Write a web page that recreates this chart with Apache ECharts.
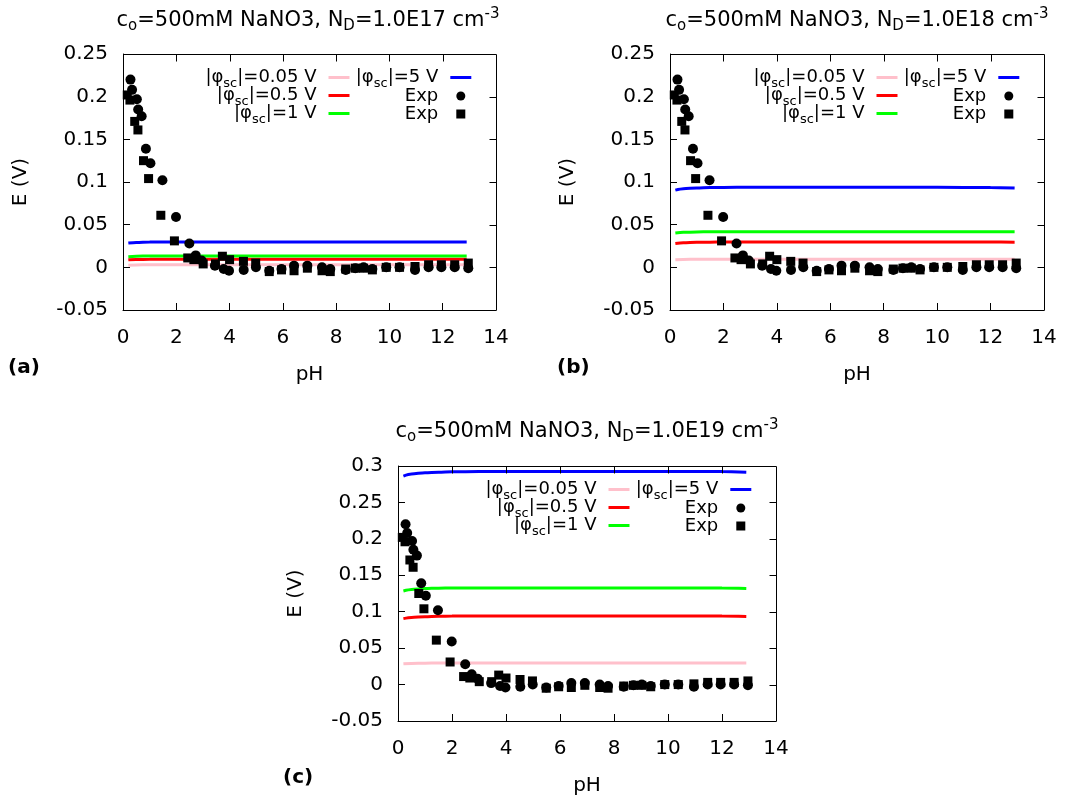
<!DOCTYPE html>
<html>
<head>
<meta charset="utf-8">
<script src="https://cdn.jsdelivr.net/npm/echarts@6/dist/echarts.min.js"></script>
<style>
  html, body { margin: 0; padding: 0; background: #fff; }
  #chart { width: 1069px; height: 800px; }
</style>
</head>
<body>
<div id="chart"></div>
<script>
// ---- data -------------------------------------------------------------
// pH grid of the model curves
const PH_MODEL = [0.2, 0.5, 1, 1.5, 2, 3, 4, 6, 8, 10, 12, 12.9];

// model E (V) for N_D = 1.0E17 cm^-3
const ND17_PHI005 = [0.0025, 0.0028, 0.0030, 0.0030, 0.0030, 0.0030, 0.0030, 0.0030, 0.0030, 0.0030, 0.0030, 0.0030];
const ND17_PHI05  = [0.0088, 0.0092, 0.0094, 0.0095, 0.0095, 0.0095, 0.0095, 0.0095, 0.0095, 0.0095, 0.0095, 0.0094];
const ND17_PHI1   = [0.0125, 0.0130, 0.0133, 0.0134, 0.0134, 0.0134, 0.0134, 0.0134, 0.0134, 0.0134, 0.0134, 0.0133];
const ND17_PHI5   = [0.0285, 0.0292, 0.0296, 0.0297, 0.0298, 0.0298, 0.0298, 0.0298, 0.0298, 0.0298, 0.0298, 0.0297];

// model E (V) for N_D = 1.0E18 cm^-3
const ND18_PHI005 = [0.0090, 0.0093, 0.0095, 0.0095, 0.0095, 0.0095, 0.0095, 0.0095, 0.0095, 0.0095, 0.0095, 0.0095];
const ND18_PHI05  = [0.0280, 0.0288, 0.0293, 0.0295, 0.0296, 0.0296, 0.0296, 0.0296, 0.0296, 0.0296, 0.0296, 0.0295];
const ND18_PHI1   = [0.0402, 0.0410, 0.0415, 0.0417, 0.0417, 0.0417, 0.0417, 0.0417, 0.0417, 0.0417, 0.0417, 0.0416];
const ND18_PHI5   = [0.0905, 0.0922, 0.0930, 0.0935, 0.0937, 0.0938, 0.0938, 0.0938, 0.0938, 0.0938, 0.0936, 0.0930];

// model E (V) for N_D = 1.0E19 cm^-3
const ND19_PHI005 = [0.0285, 0.0290, 0.0294, 0.0295, 0.0295, 0.0295, 0.0295, 0.0295, 0.0295, 0.0295, 0.0295, 0.0295];
const ND19_PHI05  = [0.0905, 0.0920, 0.0932, 0.0937, 0.0940, 0.0942, 0.0942, 0.0942, 0.0942, 0.0942, 0.0940, 0.0935];
const ND19_PHI1   = [0.1285, 0.1305, 0.1318, 0.1323, 0.1326, 0.1327, 0.1327, 0.1327, 0.1327, 0.1327, 0.1325, 0.1320];
const ND19_PHI5   = [0.2862, 0.2890, 0.2908, 0.2915, 0.2920, 0.2925, 0.2925, 0.2925, 0.2925, 0.2925, 0.2923, 0.2915];

// measured potential, first set (circles)
const EXP1_PH = [0.28, 0.34, 0.52, 0.57, 0.70, 0.86, 1.03, 1.48, 1.99, 2.49, 2.73, 2.95, 3.45, 3.78, 3.98, 4.53, 4.99, 5.49, 5.95, 6.42, 6.92, 7.47, 7.78, 8.36, 8.72, 9.03, 9.36, 9.88, 10.38, 10.96, 11.47, 11.95, 12.45, 12.96];
const EXP1_E  = [0.220, 0.208, 0.197, 0.185, 0.177, 0.139, 0.122, 0.102, 0.059, 0.028, 0.014, 0.008, 0.002, -0.002, -0.004, -0.003, 0.000, -0.004, -0.002, 0.002, 0.002, 0.000, -0.002, -0.003, -0.001, 0.000, -0.002, 0.000, 0.000, -0.003, 0.000, 0.000, 0.000, -0.001];

// measured potential, second set (squares)
const EXP2_PH = [0.16, 0.26, 0.44, 0.56, 0.77, 0.96, 1.42, 1.93, 2.43, 2.66, 3.01, 3.47, 3.73, 4.00, 4.52, 4.98, 5.49, 5.95, 6.42, 6.92, 7.47, 7.78, 8.36, 8.72, 9.03, 9.36, 9.88, 10.38, 10.96, 11.47, 11.95, 12.45, 12.96];
const EXP2_E  = [0.202, 0.196, 0.171, 0.161, 0.125, 0.104, 0.061, 0.031, 0.011, 0.009, 0.004, 0.004, 0.013, 0.009, 0.007, 0.005, -0.005, -0.003, -0.004, -0.001, -0.004, -0.005, -0.002, -0.001, -0.001, -0.003, 0.000, 0.000, 0.001, 0.003, 0.003, 0.003, 0.005];

// series names and their legend labels
const CURVE_NAMES  = ['|φsc|=0.05 V', '|φsc|=0.5 V', '|φsc|=1 V', '|φsc|=5 V'];
const CURVE_LABELS = ['|φ{sub|sc}|=0.05 V', '|φ{sub|sc}|=0.5 V', '|φ{sub|sc}|=1 V', '|φ{sub|sc}|=5 V'];
const EXP_NAMES    = ['Exp set 1', 'Exp set 2'];
const EXP_LABELS   = ['Exp', 'Exp'];

// axis ranges: [min, max, interval]
const X_RANGE = [0, 14, 2];
const Y_RANGE_17 = [-0.05, 0.25, 0.05];
const Y_RANGE_18 = [-0.05, 0.25, 0.05];
const Y_RANGE_19 = [-0.05, 0.3, 0.05];

const TITLES = [
  'c{sub|o}=500mM NaNO3, N{sub|D}=1.0E17 cm{sup|-3}',
  'c{sub|o}=500mM NaNO3, N{sub|D}=1.0E18 cm{sup|-3}',
  'c{sub|o}=500mM NaNO3, N{sub|D}=1.0E19 cm{sup|-3}'
];
const PANEL_TAGS = ['(a)', '(b)', '(c)'];

// ---- layout & style ----------------------------------------------------
const W = 1069;
const FONT = 'DejaVu Sans';
const CURVE_COLORS = ['#ffc0cb', '#ff0000', '#00ff00', '#0000ff'];
const TICK_LEN = 7;

const panels = [
  { rect: { left: 123, top: 54, width: 373, height: 256 }, y: Y_RANGE_17,
    curves: [ND17_PHI005, ND17_PHI05, ND17_PHI1, ND17_PHI5],
    titleX: 308, titleTop: 7, tag: [8, 358], yNameGap: 92 },
  { rect: { left: 670, top: 54, width: 374, height: 256 }, y: Y_RANGE_18,
    curves: [ND18_PHI005, ND18_PHI05, ND18_PHI1, ND18_PHI5],
    titleX: 857, titleTop: 7, tag: [557, 358], yNameGap: 92 },
  { rect: { left: 398, top: 466, width: 378, height: 255 }, y: Y_RANGE_19,
    curves: [ND19_PHI005, ND19_PHI05, ND19_PHI1, ND19_PHI5],
    titleX: 587, titleTop: 418, tag: [283, 768], yNameGap: 92 }
];

const zip = (xs, ys) => xs.map((x, i) => [x, ys[i]]);
const crisp = v => Math.round(v) + 0.5;

const option = {
  animation: false,
  title: [], grid: [], xAxis: [], yAxis: [], series: [], legend: [], graphic: []
};

const axisBase = () => ({
  axisLine: { show: true, onZero: false, lineStyle: { color: '#000', width: 1 } },
  axisTick: { show: true, inside: true, length: TICK_LEN, lineStyle: { color: '#000', width: 1 } },
  splitLine: { show: false }
});
const labelStyle = { fontFamily: FONT, fontSize: 20, color: '#000' };
const subRich = { sub: { fontFamily: FONT, fontSize: 13, color: '#000', padding: [12, 0, 0, 0] } };
const curveKeyText = { fontFamily: FONT, fontSize: 18, color: '#000', padding: [0, 7, 0, 0], rich: subRich };
const expKeyText = { fontFamily: FONT, fontSize: 18, color: '#000', padding: [0, 13, 0, 0] };
const frameStroke = { stroke: '#000', lineWidth: 1 };

panels.forEach((p, i) => {
  const r = p.rect;
  const gridRight = r.left + r.width;

  option.title.push({
    text: TITLES[i], left: p.titleX, top: p.titleTop, textAlign: 'center', padding: 0,
    textStyle: {
      fontFamily: FONT, fontSize: 21, fontWeight: 'normal', color: '#000',
      rich: {
        sub: { fontFamily: FONT, fontSize: 15, color: '#000', padding: [12, 0, 0, 0] },
        sup: { fontFamily: FONT, fontSize: 15, color: '#000', padding: [0, 0, 12, 0] }
      }
    }
  });

  option.grid.push({ left: r.left, top: r.top, width: r.width, height: r.height });

  option.xAxis.push(Object.assign(axisBase(), {
    gridIndex: i, type: 'value', position: 'bottom',
    min: X_RANGE[0], max: X_RANGE[1], interval: X_RANGE[2],
    name: 'pH', nameLocation: 'middle', nameGap: 55, nameTextStyle: labelStyle,
    axisLabel: Object.assign({ margin: 18 }, labelStyle)
  }));
  option.yAxis.push(Object.assign(axisBase(), {
    gridIndex: i, type: 'value', position: 'left',
    min: p.y[0], max: p.y[1], interval: p.y[2],
    name: 'E (V)', nameLocation: 'middle', nameGap: p.yNameGap, nameRotate: 90, nameTextStyle: labelStyle,
    axisLabel: Object.assign({ margin: 15 }, labelStyle)
  }));

  // model curves
  p.curves.forEach((vals, k) => {
    option.series.push({
      name: CURVE_NAMES[k], type: 'line', xAxisIndex: i, yAxisIndex: i,
      data: zip(PH_MODEL, vals), symbol: 'none', smooth: 0.3, smoothMonotone: 'x',
      lineStyle: { color: CURVE_COLORS[k], width: 3 }, itemStyle: { color: CURVE_COLORS[k] },
      z: 2, silent: true
    });
  });
  // measurements
  option.series.push({
    name: EXP_NAMES[0], type: 'scatter', xAxisIndex: i, yAxisIndex: i,
    data: zip(EXP1_PH, EXP1_E), symbol: 'circle', symbolSize: 10,
    itemStyle: { color: '#000', opacity: 1 }, z: 3, silent: true
  });
  option.series.push({
    name: EXP_NAMES[1], type: 'scatter', xAxisIndex: i, yAxisIndex: i,
    data: zip(EXP2_PH, EXP2_E), symbol: 'rect', symbolSize: 9,
    itemStyle: { color: '#000', opacity: 1 }, z: 3, silent: true
  });

  // key: two right-aligned columns, sample on the right of each label
  const rowCenters = [r.top + 22, r.top + 40, r.top + 58];
  const col1Right = W - (gridRight - 146.5);
  const col2Right = W - (gridRight - 24.7);
  const lineKey = (k, right, row) => ({
    data: [{ name: CURVE_NAMES[k], icon: 'rect' }], right: right, top: rowCenters[row] - 7.5,
    orient: 'horizontal', align: 'right', padding: 0, itemGap: 0,
    itemWidth: 21, itemHeight: 3, selectedMode: false,
    formatter: () => CURVE_LABELS[k], textStyle: curveKeyText
  });
  const expKey = (k, row) => ({
    data: [EXP_NAMES[k]], right: col2Right + 6, top: rowCenters[row] - 7,
    orient: 'horizontal', align: 'right', padding: 0, itemGap: 0,
    itemWidth: 9, itemHeight: 9, selectedMode: false,
    formatter: () => EXP_LABELS[k], textStyle: expKeyText
  });
  option.legend.push(lineKey(0, col1Right, 0), lineKey(1, col1Right, 1), lineKey(2, col1Right, 2),
                     lineKey(3, col2Right, 0), expKey(0, 1), expKey(1, 2));

  // panel tag
  option.graphic.push({
    type: 'text', left: p.tag[0], top: p.tag[1],
    style: { text: PANEL_TAGS[i], font: 'bold 20px "DejaVu Sans"', fill: '#000' }
  });

  // closed plot frame: top and right edges with mirrored inward ticks
  const L = crisp(r.left), R = crisp(gridRight), T = crisp(r.top), B = crisp(r.top + r.height);
  const seg = (x1, y1, x2, y2) => option.graphic.push({
    type: 'line', z: 50, silent: true,
    shape: { x1: x1, y1: y1, x2: x2, y2: y2 }, style: frameStroke
  });
  seg(L, T, R, T);
  seg(R, T, R, B);
  const nx = Math.round((X_RANGE[1] - X_RANGE[0]) / X_RANGE[2]);
  for (let k = 1; k < nx; k++) {
    const x = crisp(r.left + k / nx * r.width);
    seg(x, T, x, T + TICK_LEN);
  }
  const ny = Math.round((p.y[1] - p.y[0]) / p.y[2]);
  for (let k = 1; k < ny; k++) {
    const y = crisp(r.top + r.height - k / ny * r.height);
    seg(R, y, R - TICK_LEN, y);
  }
});

const chart = echarts.init(document.getElementById('chart'), null, { renderer: 'canvas' });
chart.setOption(option);
</script>
</body>
</html>
